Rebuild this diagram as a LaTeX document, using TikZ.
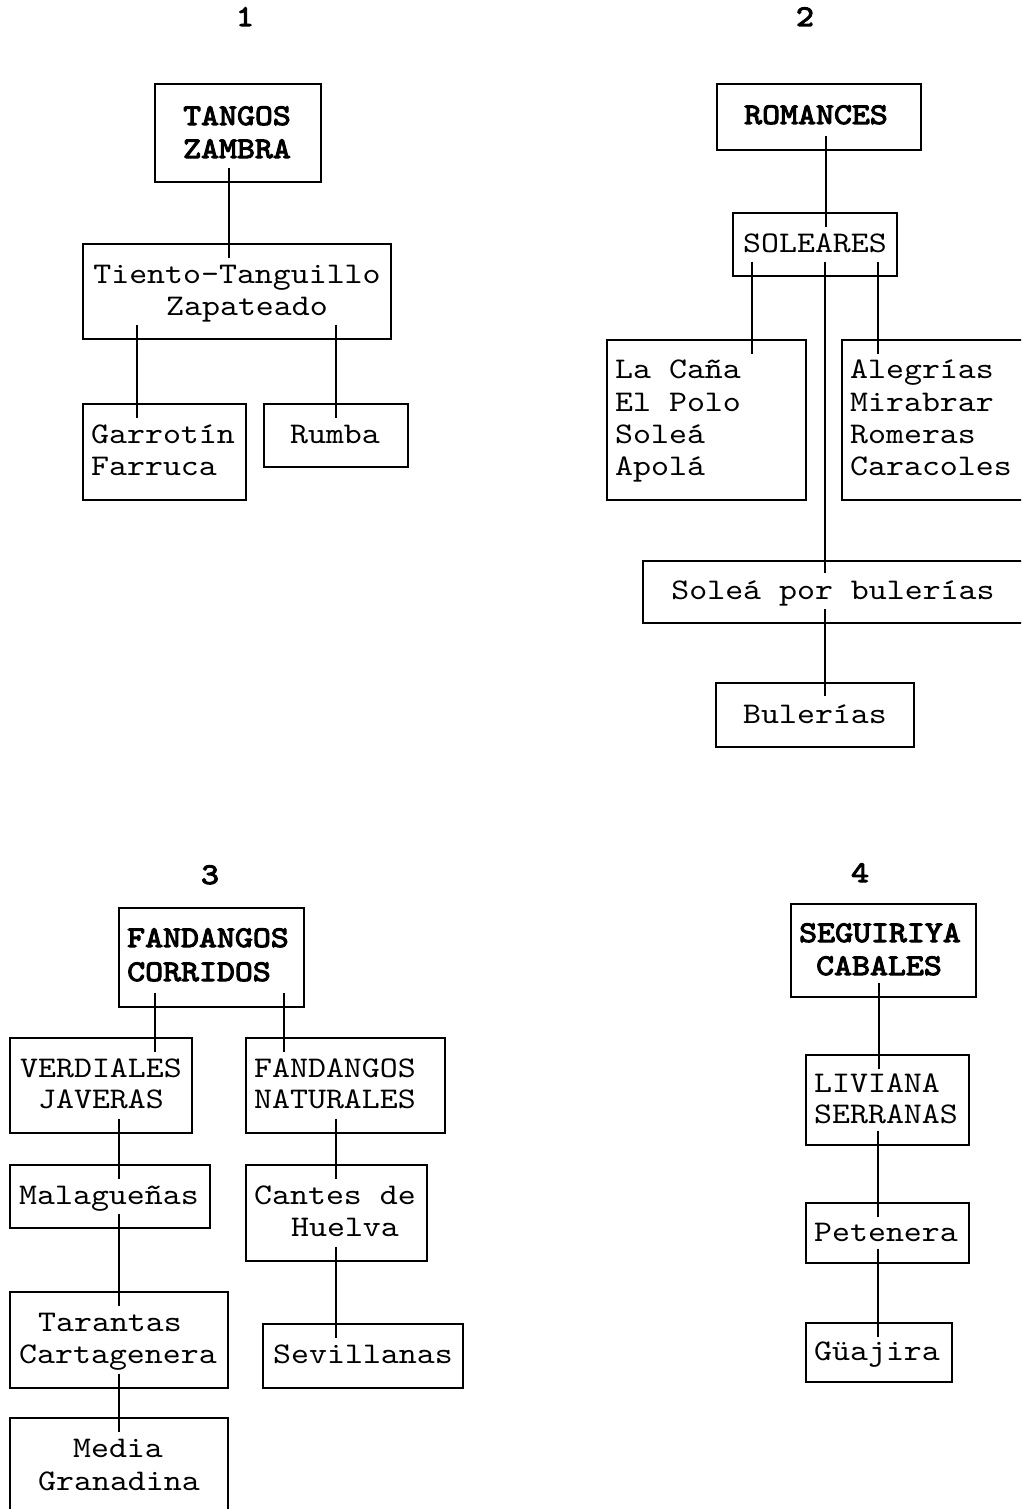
\documentclass[tikz,border=0pt]{standalone}
\usepackage{fontspec}
\newfontfamily\mono{lmmono10-regular.otf}[FakeStretch=1.14]
\newfontfamily\monob{lmmono10-regular.otf}[FakeStretch=1.14, FakeBold=3.5]
\usetikzlibrary{fit}
\begin{document}
\begin{tikzpicture}[x=1pt,y=-1pt,
  box/.style={draw=black, line width=1.1pt, inner sep=0pt},
  headbox/.style={draw=black, line width=2.4pt, inner sep=0pt},
  conn/.style={draw=black, line width=1.8pt},
  txt/.style={inner sep=0pt, font={\mono\fontsize{30}{36}\selectfont}},
  btxt/.style={inner sep=0pt, font={\monob\fontsize{30}{36}\selectfont}},
  cb/.style={anchor=base},
  lb/.style={anchor=base west}]
\useasboundingbox (0,0) rectangle (1021,1509);
\clip (0,0) rectangle (1021,1509);

% ---------- titles ----------
\node[btxt,cb] (n1) at (245,26) {1};
\node[btxt,cb] (n2) at (805,26) {2};
\node[btxt,cb] (n3) at (210,884) {3};
\node[btxt,cb] (n4) at (860,882) {4};

% ---------- group 1 ----------
\node[headbox, fit={(155,84) (321,182)}] (tangos) {};
\node[box, fit={(83,244) (391,339)}] (tiento) {};
\node[box, fit={(83,404) (246,500)}] (garrotin) {};
\node[box, fit={(264,404) (408,467)}] (rumba) {};

\node[btxt,cb] (tangosA) at (237,125) {TANGOS};
\node[btxt,cb] (tangosB) at (237,158) {ZAMBRA};
\node[txt,cb] (tientoA) at (237,283) {Tiento-Tanguillo};
\node[txt,cb] (tientoB) at (247,315) {Zapateado};
\node[txt,lb] (garrotinA) at (91,443) {Garrotín};
\node[txt,lb] (garrotinB) at (91,475) {Farruca};
\node[txt,cb] (rumbaA) at (335,443) {Rumba};

\draw[conn] ([yshift=15pt]tangos.south -| 229,0) -- ([yshift=-15pt]tiento.north -| 229,0);
\draw[conn] ([yshift=15pt]tiento.south -| 137,0) -- ([yshift=-15pt]garrotin.north -| 137,0);
\draw[conn] ([yshift=15pt]tiento.south -| 336,0) -- ([yshift=-15pt]rumba.north -| 336,0);

% ---------- group 2 ----------
\node[headbox, fit={(717,84) (921,150)}] (romances) {};
\node[box, fit={(733,213) (897,276)}] (soleares) {};
\node[box, fit={(607,340) (806,500)}] (lacana) {};
\node[box, fit={(842,340) (1040,500)}] (alegrias) {};
\node[box, fit={(643,561) (1040,623)}] (soleabul) {};
\node[box, fit={(716,683) (914,747)}] (bulerias) {};

\node[btxt,cb] (romancesA) at (816,124) {ROMANCES};
\node[txt,cb] (solearesA) at (815,252) {SOLEARES};
\node[txt,lb] (lacanaA) at (615,378) {La Caña};
\node[txt,lb] (lacanaB) at (615,411) {El Polo};
\node[txt,lb] (lacanaC) at (615,443) {Soleá};
\node[txt,lb] (lacanaD) at (615,475) {Apolá};
\node[txt,lb] (alegriasA) at (850,378) {Alegrías};
\node[txt,lb] (alegriasB) at (850,411) {Mirabrar};
\node[txt,lb] (alegriasC) at (850,443) {Romeras};
\node[txt,lb] (alegriasD) at (850,475) {Caracoles};
\node[txt,cb] (soleabulA) at (833,599) {Soleá por bulerías};
\node[txt,cb] (buleriasA) at (815,723) {Bulerías};

\draw[conn] ([yshift=15pt]romances.south -| 826,0) -- ([yshift=-15pt]soleares.north -| 826,0);
\draw[conn] ([yshift=15pt]soleares.south -| 752,0) -- ([yshift=-15pt]lacana.north -| 752,0);
\draw[conn] ([yshift=15pt]soleares.south -| 878,0) -- ([yshift=-15pt]alegrias.north -| 878,0);
\draw[conn] ([yshift=15pt]soleares.south -| 825,0) -- ([yshift=-13pt]soleabul.north -| 825,0);
\draw[conn] ([yshift=15pt]soleabul.south -| 825,0) -- ([yshift=-14pt]bulerias.north -| 825,0);

% ---------- group 3 ----------
\node[headbox, fit={(119,908) (304,1007)}] (fandangos) {};
\node[box, fit={(10,1038) (192,1133)}] (verdiales) {};
\node[box, fit={(246,1038) (445,1133)}] (fnat) {};
\node[box, fit={(10,1165) (210,1228)}] (malaguenas) {};
\node[box, fit={(246,1165) (427,1261)}] (cantes) {};
\node[box, fit={(10,1292) (228,1388)}] (tarantas) {};
\node[box, fit={(263,1324) (463,1388)}] (sevillanas) {};
\node[box, fit={(10,1418) (228,1540)}] (media) {};

\node[btxt,lb] (fandangosA) at (127,947) {FANDANGOS};
\node[btxt,lb] (fandangosB) at (127,981) {CORRIDOS};
\node[txt,cb] (verdialesA) at (101,1077) {VERDIALES};
\node[txt,cb] (verdialesB) at (101,1108) {JAVERAS};
\node[txt,lb] (fnatA) at (254,1077) {FANDANGOS};
\node[txt,lb] (fnatB) at (254,1108) {NATURALES};
\node[txt,cb] (malaguenasA) at (109,1204) {Malagueñas};
\node[txt,lb] (cantesA) at (254,1204) {Cantes de};
\node[txt,cb] (cantesB) at (345,1236) {Huelva};
\node[txt,cb] (tarantasA) at (110,1331) {Tarantas};
\node[txt,cb] (tarantasB) at (118,1363) {Cartagenera};
\node[txt,cb] (sevillanasA) at (363,1363) {Sevillanas};
\node[txt,cb] (mediaA) at (118,1457) {Media};
\node[txt,cb] (mediaB) at (119,1490) {Granadina};

\draw[conn] ([yshift=15pt]fandangos.south -| 155,0) -- ([yshift=-15pt]verdiales.north -| 155,0);
\draw[conn] ([yshift=15pt]fandangos.south -| 284,0) -- ([yshift=-15pt]fnat.north -| 284,0);
\draw[conn] ([yshift=15pt]verdiales.south -| 119,0) -- ([yshift=-15pt]malaguenas.north -| 119,0);
\draw[conn] ([yshift=15pt]fnat.south -| 336,0) -- ([yshift=-15pt]cantes.north -| 336,0);
\draw[conn] ([yshift=15pt]malaguenas.south -| 119,0) -- ([yshift=-15pt]tarantas.north -| 119,0);
\draw[conn] ([yshift=15pt]cantes.south -| 336,0) -- ([yshift=-15pt]sevillanas.north -| 336,0);
\draw[conn] ([yshift=15pt]tarantas.south -| 119,0) -- ([yshift=-15pt]media.north -| 119,0);

% ---------- group 4 ----------
\node[headbox, fit={(791,904) (976,997)}] (seguiriya) {};
\node[box, fit={(806,1055) (969,1145)}] (liviana) {};
\node[box, fit={(806,1203) (969,1263)}] (petenera) {};
\node[box, fit={(806,1323) (952,1382)}] (guajira) {};

\node[btxt,cb] (seguiriyaA) at (880,942) {SEGUIRIYA};
\node[btxt,cb] (seguiriyaB) at (879,975) {CABALES};
\node[txt,lb] (livianaA) at (814,1092) {LIVIANA};
\node[txt,lb] (livianaB) at (814,1123) {SERRANAS};
\node[txt,lb] (peteneraA) at (814,1241) {Petenera};
\node[txt,lb] (guajiraA) at (814,1360) {Güajira};

\draw[conn] ([yshift=15pt]seguiriya.south -| 879,0) -- ([yshift=-15pt]liviana.north -| 879,0);
\draw[conn] ([yshift=15pt]liviana.south -| 878,0) -- ([yshift=-15pt]petenera.north -| 878,0);
\draw[conn] ([yshift=15pt]petenera.south -| 878,0) -- ([yshift=-15pt]guajira.north -| 878,0);
\end{tikzpicture}
\end{document}
